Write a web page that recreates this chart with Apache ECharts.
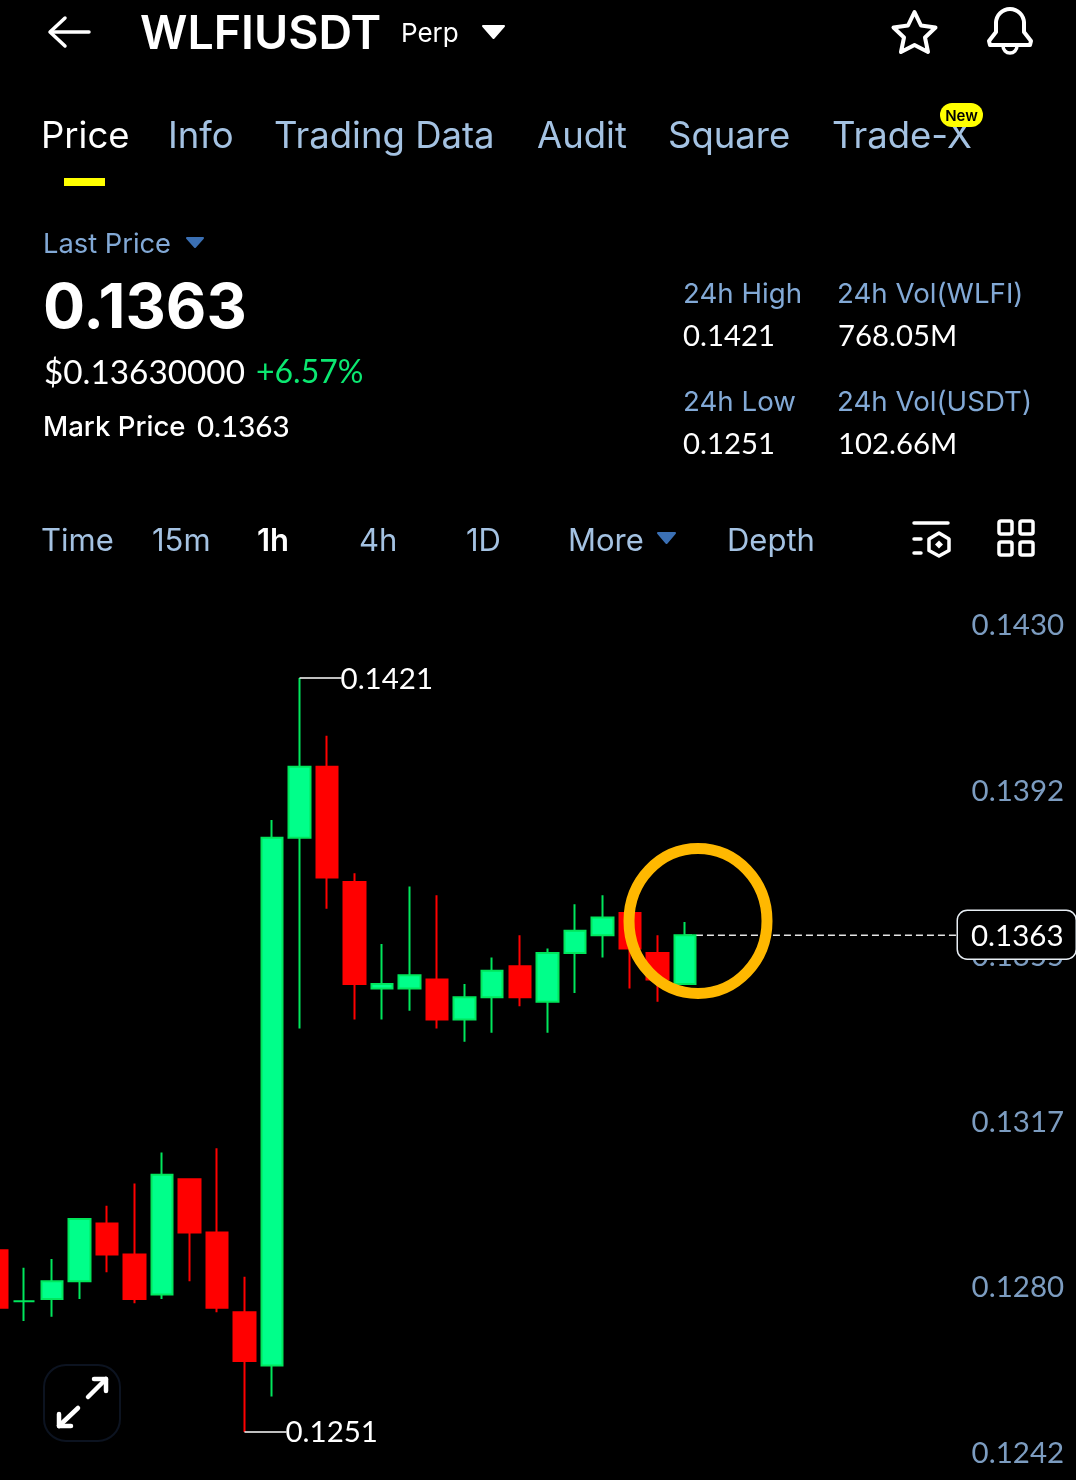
<!DOCTYPE html>
<html>
<head>
<meta charset="utf-8">
<style>html,body{margin:0;padding:0;background:#000}#c{width:1076px;height:1480px}</style>
<script src="https://cdn.jsdelivr.net/npm/echarts@6/dist/echarts.min.js"></script>
</head>
<body>
<div id="c"></div>
<script>
// ---- chart data ----
const opens  = [0.1292,0.12805,0.1281,0.1285,0.1298,0.1291,0.1282,0.1308,0.1296,0.1278,0.1266,0.1385,0.1401,0.1375,0.1351,0.1351,0.1353,0.1344,0.1349,0.1356,0.1348,0.1359,0.1363,0.1368,0.1359,0.1352];
const closes = [0.1279,0.12805,0.1285,0.1299,0.1291,0.1281,0.1309,0.1296,0.1279,0.1267,0.1385,0.1401,0.1376,0.1352,0.1352,0.1354,0.1344,0.1349,0.1355,0.1349,0.1359,0.1364,0.1367,0.1360,0.1353,0.1363];
const lows   = [0.1277,0.1276,0.1277,0.1281,0.1287,0.1280,0.1281,0.1285,0.1278,0.1251,0.1259,0.1342,0.1369,0.1344,0.1344,0.1346,0.1342,0.1339,0.1341,0.1347,0.1341,0.1350,0.1358,0.1351,0.1348,0.1352];
const highs  = [0.1294,0.1288,0.1290,0.1299,0.1302,0.1307,0.1314,0.1308,0.1315,0.1286,0.1389,0.1421,0.1408,0.1377,0.1361,0.1374,0.1372,0.1352,0.1358,0.1363,0.1360,0.1370,0.1372,0.1368,0.1363,0.1366];
const slotCount = 40;
const lastPrice = 0.1363;
const highMark = [11, 0.1421];
const lowMark = [9, 0.1251];
const priceTicks = [0.1430,0.13924,0.13548,0.13172,0.12796,0.1242];

// ---- text ----
const symbolName = 'WLFIUSDT';
const tabs = ['Price','Info','Trading Data','Audit','Square','Trade-X'];
const frames = ['Time','15m','1h','4h','1D','More','Depth'];
const statLabels = ['24h High','24h Vol(WLFI)','24h Low','24h Vol(USDT)'];
const statValues = ['0.1421','768.05M','0.1251','102.66M'];

// ---- layout & style ----
const F = 'Inter, Lato, "Noto Sans", sans-serif';
const FN = 'Lato, Inter, "Noto Sans", sans-serif';
const BLUE = '#A4C2E2', MUTE = '#82A9D6', AXIS = '#7C9CC0', TRI = '#3B70B4';
const tabX = [41,168,274,537,668,832];
const frameX = [41,152,257,359,466,568,727];
const statPos = [[683,294.5],[837,294.5],[683,402.5],[837,402.5]];
const valPos = [[683,337],[838,337],[683,445],[838,445]];
const UP = '#00FF8A', UPW = '#00E65C', DOWN = '#FF0000';

const t = (text,x,y,size,fill,weight,fam,extra) => Object.assign({type:'text',z:20,style:Object.assign({
  text,x,y,fill,font:(weight||400)+' '+size+'px '+(fam||F),textAlign:'left',textVerticalAlign:'middle'},extra||{})});
const stroke = (type,shape,w,color) => ({type,z:20,shape,style:{fill:'none',stroke:color||'#fff',lineWidth:w||4,lineCap:'round',lineJoin:'round'}});
const tri = (a,b,c,color) => ({type:'polygon',z:20,shape:{points:[a,b,c]},style:{fill:color,stroke:color,lineWidth:2,lineJoin:'round'}});

const gfx = [];
// top bar
gfx.push(stroke('polyline',{points:[[51,32],[89,32]]},3.5));
gfx.push(stroke('polyline',{points:[[65,18],[50,32],[65,46]]},3.5));
gfx.push(t(symbolName,140,35,46.5,'#fff',600));
gfx.push(t('Perp',401,34,26,'#fff',400));
gfx.push(tri([483,26],[504,26],[493.5,38],'#fff'));
gfx.push(stroke('polygon',{points:[[914.5,12],[921,25.5],[935.5,27.5],[925,37.5],[928,52],[914.5,45],[901,52],[904,37.5],[893.5,27.5],[908,25.5]]},4));
gfx.push({type:'arc',z:20,shape:{cx:1010,cy:23,r:14,startAngle:Math.PI,endAngle:2*Math.PI,clockwise:true},style:{fill:'none',stroke:'#fff',lineWidth:4}});
gfx.push(stroke('polyline',{points:[[996,23],[996,32],[989,41],[990,45],[1030,45],[1031,41],[1024,32],[1024,23]]},4));
gfx.push({type:'arc',z:20,shape:{cx:1010,cy:46,r:7,startAngle:0,endAngle:Math.PI,clockwise:true},style:{fill:'none',stroke:'#fff',lineWidth:3.5}});
// tabs
tabs.forEach((s,i)=>gfx.push(t(s,tabX[i],137,36.5,i===0?'#fff':BLUE,400)));
gfx.push({type:'rect',z:20,shape:{x:64,y:178,width:41,height:8},style:{fill:'#FFFF00'}});
gfx.push({type:'rect',z:21,shape:{x:940,y:103,width:43,height:24,r:12},style:{fill:'#FFFF00'}});
gfx.push(Object.assign(t('New',961.5,116,15,'#000',600,F,{textAlign:'center'}),{z:22}));
// price block
gfx.push(t('Last Price',43,244.5,27.3,MUTE,400));
gfx.push(tri([187,238],[203,238],[195,247],TRI));
gfx.push(t('0.1363',43,309,62.5,'#fff',700));
gfx.push(t('$0.13630000',44,373,33.3,'#fff',400,FN));
gfx.push(t('+6.57%',256,373,32,'#0BE871',400,FN));
gfx.push(t('Mark Price',43,427.5,27.6,'#fff',500));
gfx.push(t('0.1363',197,427,29.5,'#fff',500,FN));
statLabels.forEach((s,i)=>gfx.push(t(s,statPos[i][0],statPos[i][1],27.7,MUTE,400)));
statValues.forEach((s,i)=>gfx.push(t(s,valPos[i][0],valPos[i][1],29.3,'#fff',400,FN)));
// timeframe row
frames.forEach((s,i)=>gfx.push(t(s,frameX[i],541.5,31,i===2?'#fff':BLUE,i===2?600:400)));
gfx.push(tri([658,533],[675,533],[666.5,543],TRI));
gfx.push(stroke('polyline',{points:[[914,523],[948,523]]},3.5));
gfx.push(stroke('polyline',{points:[[914,539],[921,539]]},3.5));
gfx.push(stroke('polyline',{points:[[914,553],[921,553]]},3.5));
gfx.push(stroke('polygon',{points:[[939,533],[949,539],[949,550.5],[939,556],[929,550.5],[929,539]]},3.5));
gfx.push({type:'polygon',z:20,shape:{points:[[939,540.5],[943,544.5],[939,548.5],[935,544.5]]},style:{fill:'#fff'}});
[[999,521],[1020,521],[999,542],[1020,542]].forEach(p=>gfx.push({type:'rect',z:20,shape:{x:p[0],y:p[1],width:13,height:13,r:2},style:{fill:'none',stroke:'#fff',lineWidth:3.5}}));
// expand button
gfx.push({type:'rect',z:20,shape:{x:44,y:1365,width:76,height:76,r:22},style:{fill:'none',stroke:'#0C1320',lineWidth:2}});
gfx.push(stroke('polyline',{points:[[88,1397],[106,1379]]},4.5));
gfx.push(stroke('polyline',{points:[[94,1379],[106,1379],[106,1391]]},4.5));
gfx.push(stroke('polyline',{points:[[78,1408],[59,1426]]},4.5));
gfx.push(stroke('polyline',{points:[[59,1414],[59,1426],[71,1426]]},4.5));
// hand-drawn annotation ring
gfx.push({type:'ellipse',z:100,shape:{cx:698,cy:921,rx:69,ry:72.5},style:{fill:'none',stroke:'#FFB800',lineWidth:11}});

const candles = opens.map((o,i)=>[o,closes[i],lows[i],highs[i]]);
const slots = Array.from({length:slotCount},(_,i)=>'k'+i);

const option = {
  backgroundColor:'#000',
  animation:false,
  grid:{left:-17.07,top:580,width:1101.2,height:900,containLabel:false,outerBoundsMode:'none'},
  xAxis:{type:'category',data:slots,show:false,boundaryGap:true},
  yAxis:[
    {type:'value',min:0.124017,max:0.144310,show:false,splitLine:{show:false}},
    {type:'value',min:0.123587,max:0.144045,position:'right',splitLine:{show:false},
     axisLine:{show:false},axisTick:{show:false},
     axisLabel:{show:true,inside:true,margin:20,customValues:priceTicks,hideOverlap:false,
       showMinLabel:true,showMaxLabel:true,
       formatter:v=>v.toFixed(4),color:AXIS,fontSize:29.5,fontFamily:FN}}
  ],
  graphic:{elements:gfx},
  series:[
    {type:'line',z:3,yAxisIndex:0,silent:true,showSymbol:false,symbol:'none',
     data:[[25,lastPrice],[35,lastPrice]],
     lineStyle:{color:'#E6E6E6',width:1.6,type:[7,4]}},
    {type:'candlestick',z:4,yAxisIndex:0,barWidth:22,data:candles,
     itemStyle:{color:UP,borderColor:UPW,color0:DOWN,borderColor0:DOWN,borderWidth:2}},
    {type:'custom',z:5,yAxisIndex:0,silent:true,clip:false,data:[highMark,lowMark],
     renderItem:(p,api)=>{
       const c=api.coord([api.value(0),api.value(1)]);
       return {type:'group',children:[
         {type:'line',shape:{x1:c[0],y1:c[1],x2:c[0]+42,y2:c[1]},style:{stroke:'#fff',lineWidth:1.5}},
         {type:'text',style:{text:api.value(1).toFixed(4),x:c[0]+41,y:c[1]+1,fill:'#fff',font:'400 29.5px '+FN,textAlign:'left',textVerticalAlign:'middle'}}
       ]};
     }},
    {type:'custom',z:6,yAxisIndex:0,silent:true,clip:false,data:[[35,lastPrice]],
     renderItem:(p,api)=>{
       const c=api.coord([api.value(0),api.value(1)]);
       return {type:'group',children:[
         {type:'rect',shape:{x:c[0]-3,y:c[1]-25,width:119,height:49,r:10},style:{fill:'#000',stroke:'#E8EEF4',lineWidth:1.5}},
         {type:'text',style:{text:api.value(1).toFixed(4),x:c[0]+57,y:c[1]+1,fill:'#fff',font:'400 29.5px '+FN,textAlign:'center',textVerticalAlign:'middle'}}
       ]};
     }}
  ]
};
echarts.init(document.getElementById('c'),null,{renderer:'canvas'}).setOption(option);
</script>
</body>
</html>
